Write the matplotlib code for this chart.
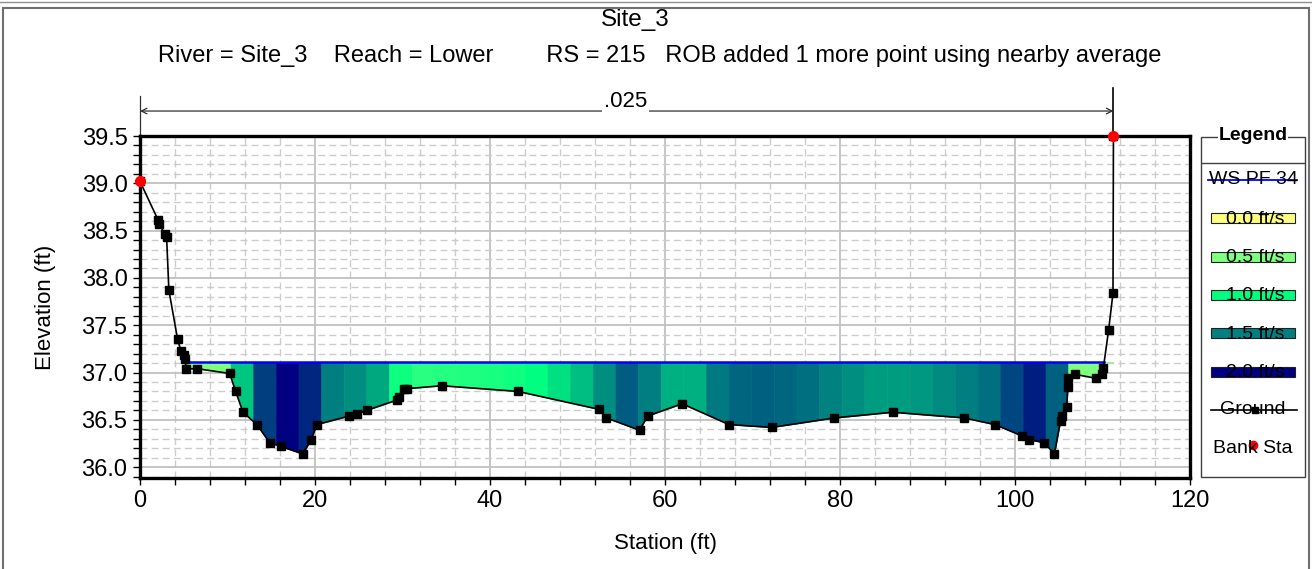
import numpy as np
import matplotlib
matplotlib.use('Agg')
import matplotlib.pyplot as plt
from matplotlib.colors import LinearSegmentedColormap, Normalize
from matplotlib.patches import Rectangle
from matplotlib.lines import Line2D
import matplotlib.transforms as mtransforms

plt.rcParams['font.family'] = ['Liberation Sans', 'DejaVu Sans']

# ground profile (station ft, elevation ft)
ground_x = [0, 2.08, 2.2, 2.85, 3.04, 3.3, 4.3, 4.67, 5.05, 5.1, 5.3, 6.57,
            10.25, 10.93, 11.77, 13.36, 14.8, 16.06, 18.6, 19.55, 20.2, 23.9,
            24.75, 25.9, 29.4, 29.6, 30.2, 30.56, 34.5, 43.2, 52.5, 53.3, 57.1,
            58.0, 61.96, 67.3, 72.2, 79.35, 86.0, 94.2, 97.7, 100.8, 101.6,
            103.3, 104.5, 105.2, 105.4, 105.9, 106.05, 106.1, 106.9, 109.2,
            109.9, 110.1, 110.7, 111.2, 111.25]
ground_y = [39.02, 38.61, 38.57, 38.46, 38.43, 37.87, 37.35, 37.23, 37.18,
            37.14, 37.04, 37.04, 36.99, 36.80, 36.58, 36.45, 36.26, 36.22,
            36.14, 36.29, 36.45, 36.54, 36.56, 36.60, 36.71, 36.74, 36.83,
            36.83, 36.86, 36.80, 36.61, 36.52, 36.39, 36.54, 36.67, 36.45,
            36.42, 36.52, 36.58, 36.52, 36.45, 36.33, 36.29, 36.26, 36.14,
            36.49, 36.54, 36.64, 36.85, 36.94, 36.98, 36.94, 36.98, 37.05,
            37.45, 37.84, 39.5]
bank_x = [0, 111.25]
bank_y = [39.02, 39.5]
ws_elev = 37.11

# velocity in each of the 43 equal slices between bank stations (ft/s)
slice_vel = [np.nan, np.nan, 0.5, 0.5, 1.22, 1.75, 2.0, 1.85, 1.5, 1.44, 1.34,
             0.95, 0.84, 0.86, 0.88, 0.9, 0.94, 1.0, 1.12, 1.25, 1.44, 1.64,
             1.5, 1.31, 1.31, 1.52, 1.6, 1.62, 1.6, 1.56, 1.49, 1.44, 1.39,
             1.39, 1.4, 1.46, 1.5, 1.56, 1.72, 1.875, 1.62, 0.5, 0.5]

leg_vel = [0.0, 0.5, 1.0, 1.5, 2.0]
leg_colors = ['#ffff80', '#80ff80', '#00ff80', '#008080', '#000080']

cmap = LinearSegmentedColormap.from_list(
    'vel', list(zip([v / 2.0 for v in leg_vel], leg_colors)))
norm = Normalize(0, 2.0)

gx = np.array(ground_x)
gy = np.array(ground_y)

fig = plt.figure(figsize=(13.12, 5.69), dpi=100)
ax = fig.add_axes([140 / 1312, 1 - 478 / 569, 1050 / 1312, 342 / 569])

# velocity slices
n = len(slice_vel)
w = (bank_x[1] - bank_x[0]) / n
for k, v in enumerate(slice_vel):
    if np.isnan(v):
        continue
    x0, x1 = bank_x[0] + k * w, bank_x[0] + (k + 1) * w
    xs = np.union1d(np.linspace(x0, x1, 300), gx[(gx > x0) & (gx < x1)])
    ys = np.interp(xs, gx, gy)
    c = cmap(norm(v))
    ax.fill_between(xs, np.minimum(ys, ws_elev), ws_elev, facecolor=c,
                    edgecolor=c, lw=0.4, zorder=2)

# water surface edges
below = gy < ws_elev
i0 = np.argmax(below)
i1 = len(gy) - 1 - np.argmax(below[::-1])
xl = np.interp(ws_elev, [gy[i0], gy[i0 - 1]], [gx[i0], gx[i0 - 1]])
xr = np.interp(ws_elev, [gy[i1], gy[i1 + 1]], [gx[i1], gx[i1 + 1]])
ax.plot([xl, xr], [ws_elev, ws_elev], color='#0000ff', lw=1.8, zorder=4)

ax.plot(gx, gy, color='black', lw=1.2, marker='s', ms=5.5, zorder=5)
ax.plot(bank_x, bank_y, 'o', color='#ff0000', ms=7, zorder=6, clip_on=False)

ax.set_xlim(0, 120)
ax.set_ylim(35.885, 39.5)
ax.set_xticks(np.arange(0, 121, 20))
ax.set_xticks(np.arange(0, 121, 4), minor=True)
ax.set_yticks(np.arange(36.0, 39.51, 0.5))
ax.set_yticks(np.arange(35.9, 39.51, 0.1), minor=True)
ax.set_yticklabels(['%.1f' % t for t in np.arange(36.0, 39.51, 0.5)])
ax.tick_params(which='both', direction='out', length=5, width=1, labelsize=17)
ax.tick_params(axis='y', pad=4)
ax.set_axisbelow(True)
ax.grid(which='major', color='#c0c0c0', lw=1.3, zorder=0)
ax.grid(which='minor', color='#cccccc', lw=1, ls=(0, (5, 3)), zorder=0)
for s in ax.spines.values():
    s.set_linewidth(2.4)
ax.set_xlabel('Station (ft)', fontsize=16, labelpad=15)
ax.set_ylabel('Elevation (ft)', fontsize=16, labelpad=18)

# n value bracket
tr = mtransforms.blended_transform_factory(ax.transData, ax.transAxes)
ax.annotate('', xy=(bank_x[0], 1.073), xytext=(bank_x[1], 1.073), xycoords=tr,
            arrowprops=dict(arrowstyle='<->', color='#303030', lw=0.9,
                            shrinkA=0, shrinkB=0))
ax.plot([bank_x[0]] * 2, [1.0, 1.117], color='#303030', lw=0.9, transform=tr,
        clip_on=False)
ax.plot([bank_x[1]] * 2, [1.0, 1.14], color='black', lw=1.2, transform=tr,
        clip_on=False)
ax.text(55.5, 1.071, '.025', transform=tr, ha='center', va='bottom',
        fontsize=16, bbox=dict(fc='white', ec='none', pad=1.5))

fig.text(635 / 1312, 1 - 20 / 569, 'Site_3', ha='center', va='center',
         fontsize=17.5)
fig.text(660 / 1312, 1 - 56 / 569,
         'River = Site_3    Reach = Lower        RS = 215   ROB added 1 more point using nearby average',
         ha='center', va='center', fontsize=17)

# legend
lax = fig.add_axes([1201 / 1312, 1 - 477 / 569, 104 / 1312, 340 / 569])
lax.set_xlim(1201, 1305)
lax.set_ylim(477, 137)
lax.axis('off')
lax.add_patch(Rectangle((1201, 137), 104, 340, fill=False, ec='#404040',
                        lw=1, clip_on=False))
lax.plot([1201, 1305], [163, 163], color='#404040', lw=1)
lax.text(1253, 136, 'Legend', ha='center', va='center', fontsize=14,
         fontweight='bold', bbox=dict(fc='white', ec='none', pad=0.5))
step = 38.3
lax.plot([1208, 1297], [180, 180], color='#0000ff', lw=1.3)
lax.text(1253, 180, 'WS PF 34', ha='center', va='center', fontsize=14)
for i, (v, c) in enumerate(zip(leg_vel, leg_colors)):
    yy = 180 + step * (i + 1)
    lax.add_patch(Rectangle((1211, yy - 5), 84, 10, fc=c, ec='#202020', lw=0.8))
    lax.text(1255, yy + 1, '%.1f ft/s' % v, ha='center', va='center',
             fontsize=14)
yy = 180 + step * 6
lax.plot([1211, 1297], [yy, yy], color='black', lw=1.2)
lax.plot([1255], [yy], 's', color='black', ms=5)
lax.text(1253, yy, 'Ground', ha='center', va='center', fontsize=14)
yy = 180 + step * 7
lax.text(1253, yy, 'Bank Sta', ha='center', va='center', fontsize=14)
lax.plot([1253], [yy - 3], 'o', color='#ff0000', ms=6)

# window frame
fig.add_artist(Rectangle((3 / 1312, -0.01), 1306 / 1312, (569 - 8) / 569 + 0.01,
                         transform=fig.transFigure, fill=False, ec='#707070',
                         lw=1.5))
fig.add_artist(Line2D([0, 1], [1 - 2 / 569] * 2, transform=fig.transFigure,
                      color='#909090', lw=1))

fig.savefig('out.png', dpi=100)
